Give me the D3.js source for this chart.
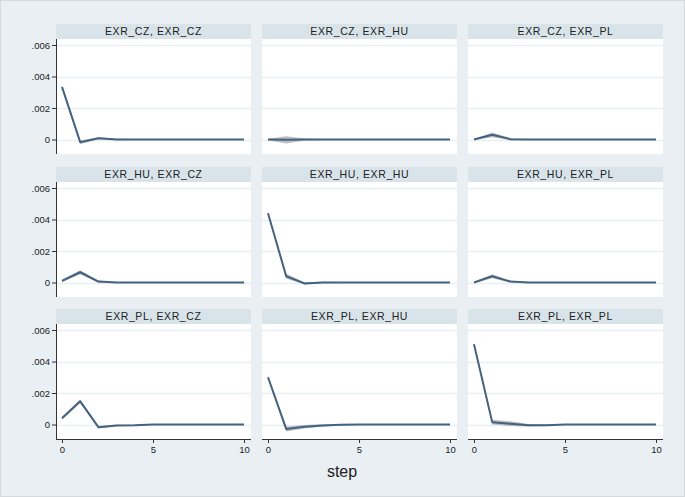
<!DOCTYPE html>
<html>
<head>
<meta charset="utf-8">
<script src="https://cdn.jsdelivr.net/npm/d3@7"></script>
<style>
  body { margin: 0; background: #e9eff2; }
  svg { display: block; font-family: "Liberation Sans", Arial, sans-serif; }
</style>
</head>
<body>
<script>
const width = 685;
const height = 497;

// data
const steps = [0, 1, 2, 3, 4, 5, 6, 7, 8, 9, 10];
const xTicks = [0, 5, 10];
const yTicks = [0, 0.002, 0.004, 0.006];
const yTickLabels = ["0", ".002", ".004", ".006"];
const titles = [
  "EXR_CZ, EXR_CZ", "EXR_CZ, EXR_HU", "EXR_CZ, EXR_PL",
  "EXR_HU, EXR_CZ", "EXR_HU, EXR_HU", "EXR_HU, EXR_PL",
  "EXR_PL, EXR_CZ", "EXR_PL, EXR_HU", "EXR_PL, EXR_PL"
];
const irf = [
  [0.00334, -0.00017, 0.00008, 0, 0, 0, 0, 0, 0, 0, 0],
  [0, -0.00002, 0, 0, 0, 0, 0, 0, 0, 0, 0],
  [0, 0.0003, 0.00002, 0, 0, 0, 0, 0, 0, 0, 0],
  [0.0001, 0.00065, 0.00006, 0, 0, 0, 0, 0, 0, 0, 0],
  [0.0044, 0.0004, -0.00006, 0, 0, 0, 0, 0, 0, 0, 0],
  [0, 0.0004, 0.00006, 0, 0, 0, 0, 0, 0, 0, 0],
  [0.0004, 0.00147, -0.00017, -0.00006, -0.00005, 0, 0, 0, 0, 0, 0],
  [0.003, -0.00028, -0.00014, -0.00006, -0.00002, 0, 0, 0, 0, 0, 0],
  [0.0051, 0.00015, 0.00005, -0.00005, -0.00004, 0, 0, 0, 0, 0, 0]
];
const bandHalf = [
  [0.00003, 0.00008, 0.00004, 0.00001, 0, 0, 0, 0, 0, 0, 0],
  [0.00002, 0.0002, 0.00003, 0, 0, 0, 0, 0, 0, 0, 0],
  [0, 0.00012, 0.00003, 0, 0, 0, 0, 0, 0, 0, 0],
  [0.00006, 0.0001, 0.00004, 0, 0, 0, 0, 0, 0, 0, 0],
  [0.00004, 0.00012, 0.00004, 0.00001, 0, 0, 0, 0, 0, 0, 0],
  [0, 0.0001, 0.00003, 0, 0, 0, 0, 0, 0, 0, 0],
  [0.00006, 0.00008, 0.00005, 0.00002, 0.00001, 0, 0, 0, 0, 0, 0],
  [0.00005, 0.00013, 0.00008, 0.00004, 0.00002, 0, 0, 0, 0, 0, 0],
  [0.00005, 0.00012, 0.00012, 0.00005, 0.00002, 0, 0, 0, 0, 0, 0]
];

const colLeft = [56, 262, 468];
const rowTop = [24, 167, 309];
const panelW = 195;
const headH = 15;
const plotH = 115;

const svg = d3.select("body").append("svg").attr("width", width).attr("height", height);

svg.append("rect")
  .attr("x", 0.5).attr("y", 0.5)
  .attr("width", width - 1).attr("height", height - 1)
  .attr("fill", "#e9eff2").attr("stroke", "#d3dadd");

titles.forEach((title, i) => {
  const r = Math.floor(i / 3), c = i % 3;
  const x0 = colLeft[c];
  const top = rowTop[r];
  const pt = top + headH;

  const x = d3.scaleLinear().domain([0, 10]).range([x0 + 6, x0 + panelW - 7]);
  const y = d3.scaleLinear().domain([0, 0.006]).range([pt + 100.5, pt + 6]);

  const g = svg.append("g");

  g.append("rect")
    .attr("x", x0).attr("y", top).attr("width", panelW).attr("height", headH)
    .attr("fill", "#d9e4ea");
  g.append("text")
    .attr("x", x0 + panelW / 2).attr("y", top + 11)
    .attr("text-anchor", "middle")
    .attr("font-size", 10.5).attr("letter-spacing", 0.6)
    .attr("fill", "#222")
    .text(title);

  g.append("rect")
    .attr("x", x0).attr("y", pt).attr("width", panelW).attr("height", plotH)
    .attr("fill", "#fff");

  g.selectAll(".grid").data(yTicks).enter().append("line")
    .attr("x1", x0).attr("x2", x0 + panelW)
    .attr("y1", d => Math.round(y(d)) + 0.5).attr("y2", d => Math.round(y(d)) + 0.5)
    .attr("stroke", "#e6eff1").attr("stroke-width", 1.3);

  const pts = steps.map((s, k) => ({ s, v: irf[i][k], h: bandHalf[i][k] }));

  g.append("path")
    .datum(pts)
    .attr("d", d3.area().x(d => x(d.s)).y0(d => y(d.v - d.h - 0.00003)).y1(d => y(d.v + d.h + 0.00003)))
    .attr("fill", "#a4a9ae").attr("opacity", 0.75);

  g.append("path")
    .datum(pts)
    .attr("d", d3.line().x(d => x(d.s)).y(d => y(d.v)))
    .attr("fill", "none").attr("stroke", "#45627f").attr("stroke-width", 2)
    .attr("stroke-linejoin", "round");

  if (c === 0) {
    const ax = g.append("g").attr("transform", `translate(${x0},0)`)
      .call(d3.axisLeft(y).tickValues(yTicks).tickSize(4).tickPadding(2)
        .tickFormat((d, k) => yTickLabels[k]));
    ax.select(".domain").attr("d", `M0.5,${pt}V${pt + plotH}`).attr("stroke", "#333");
    ax.selectAll(".tick line").attr("stroke", "#333");
    ax.selectAll(".tick text").attr("font-size", 9.5).attr("fill", "#222")
      .attr("font-family", "Liberation Sans, Arial, sans-serif");
  }

  if (r === 2) {
    const ax = g.append("g").attr("transform", `translate(0,${pt + plotH})`)
      .call(d3.axisBottom(x).tickValues(xTicks).tickSize(4).tickPadding(3));
    ax.select(".domain").attr("d", `M${x0},0.5H${x0 + panelW}`).attr("stroke", "#333");
    ax.selectAll(".tick line").attr("stroke", "#333");
    ax.selectAll(".tick text").attr("font-size", 9.5).attr("fill", "#222")
      .attr("font-family", "Liberation Sans, Arial, sans-serif");
  }
});

svg.append("text")
  .attr("x", colLeft[1] + 80).attr("y", 477)
  .attr("text-anchor", "middle")
  .attr("font-size", 16).attr("fill", "#222")
  .text("step");
</script>
</body>
</html>
